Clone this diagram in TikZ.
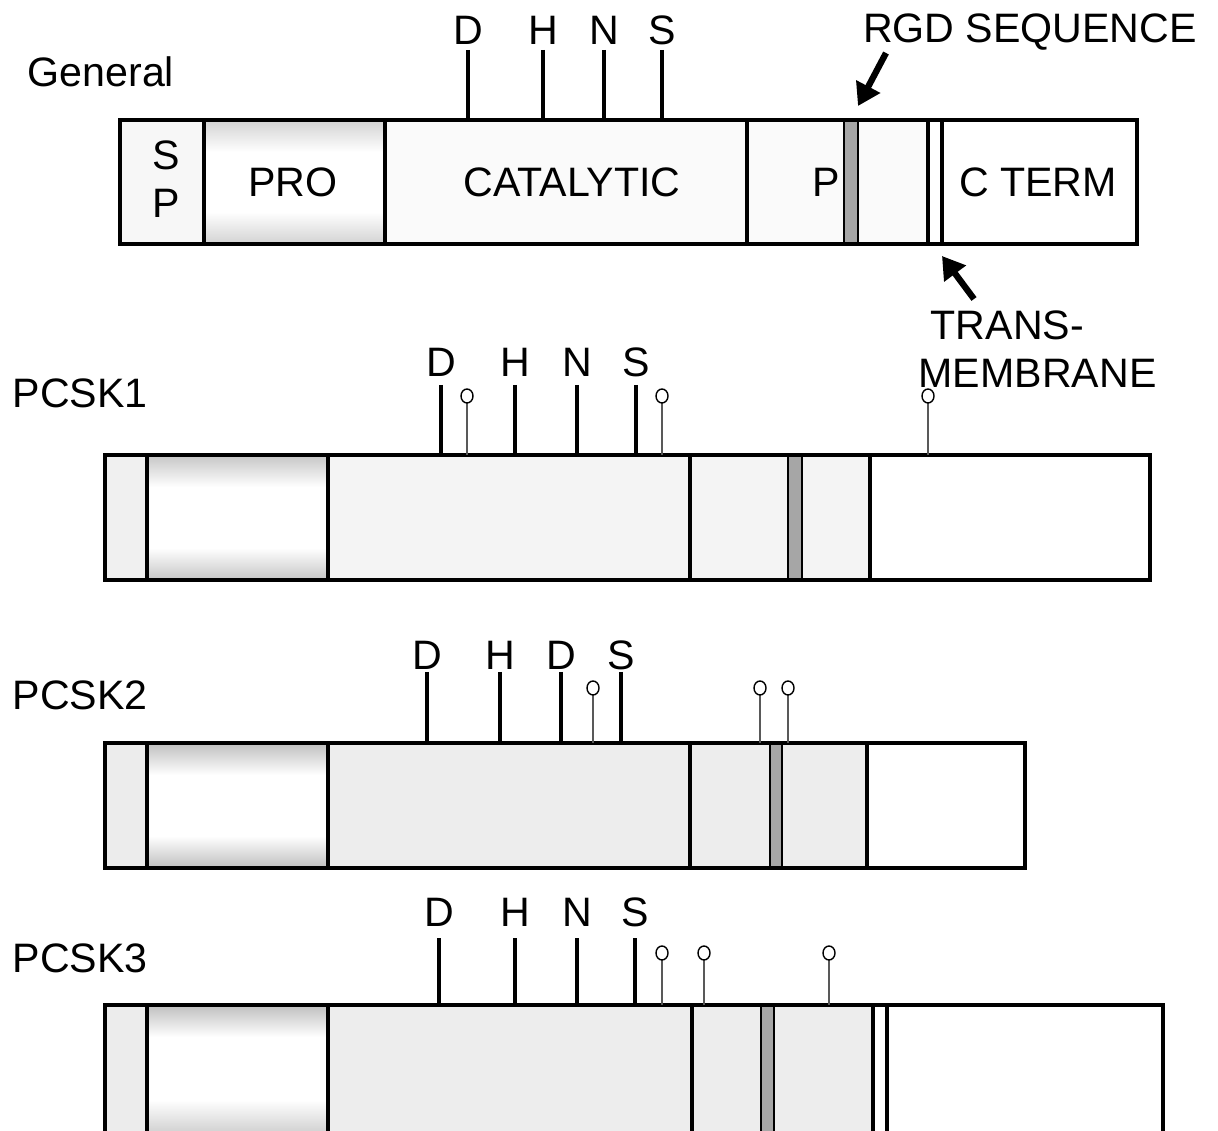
\documentclass[tikz,border=0pt]{standalone}
\usepackage{fontspec}
\setmainfont{Liberation Sans}
\usetikzlibrary{arrows.meta,positioning}

\tikzset{
  lbl/.style={font=\fontsize{11.7}{14}\selectfont,inner sep=0pt},
  bar/.style={line width=0.9pt},
  site/.style={line width=1.4pt},
  glyco/.style={gray!70!black,line width=0.4pt},
  sugar/.style={draw=black,fill=white,line width=0.4pt},
  rgdband/.style={draw,line width=0.6pt,fill=gray!70},
  pointer/.style={line width=1.8pt,-{Triangle[length=0.22cm,width=0.26cm]}}
}

\begin{document}
\begin{tikzpicture}[x=0.01cm,y=-0.01cm]
  \useasboundingbox (0,0) rectangle (1218,1131);
  \clip (0,0) rectangle (1218,1131);

  % general domain layout
  \node[lbl,anchor=west] (general) at (27,72) {General};
  \begin{scope}
    \fill[gray!6] (120,120) rectangle (204,244);
    \shade[top color=gray!35,bottom color=white] (204,120) rectangle (385,152);
    \shade[top color=white,bottom color=gray!35] (204,212) rectangle (385,244);
    \fill[gray!4] (385,120) rectangle (928,244);
    \filldraw[rgdband] (844,120) rectangle (858,244);
    \draw[bar] (120,120) rectangle (1137,244);
    \foreach \x in {204,385,747,928,942}
      \draw[bar] (\x,120) -- (\x,244);

    \node[lbl] (sp1) at (166,155) {S};
    \node[lbl] (sp2) at (166,203) {P};
    \node[lbl] (pro) at (293,182) {PRO};
    \node[lbl] (cat) at (572,182) {CATALYTIC};
    \node[lbl] (pdom) at (826,182) {P};
    \node[lbl] (cterm) at (1038,182) {C TERM};

    \foreach \x/\t [count=\i] in {468/D,543/H,604/N,662/S} {
      \draw[site] (\x,50) -- (\x,120);
      \node[lbl] (g\i) at (\x,30) {\t};
    }
  \end{scope}

  \node[lbl] (rgd) at (1030,32) {RGD SEQUENCE};
  \coordinate (rgdtail) at (886,53);
  \coordinate (rgdtip) at (858,106);
  \draw[pointer] (rgdtail) -- (rgdtip);

  \node[lbl,anchor=west] (trans) at (930,325) {TRANS-};
  \node[lbl,anchor=west] (membrane) at (918,373) {MEMBRANE};
  \coordinate (tmtail) at (974,299);
  \coordinate (tmtip) at (942,256);
  \draw[pointer] (tmtail) -- (tmtip);

  % PCSK1
  \node[lbl,anchor=west] (pcsk1) at (12,393) {PCSK1};
  \begin{scope}
    \fill[gray!12] (105,455) rectangle (147,580);
    \shade[top color=gray!45,bottom color=white] (147,455) rectangle (328,487);
    \shade[top color=white,bottom color=gray!45] (147,548) rectangle (328,580);
    \fill[gray!9] (328,455) rectangle (870,580);
    \filldraw[rgdband] (788,455) rectangle (802,580);
    \draw[bar] (105,455) rectangle (1150,580);
    \foreach \x in {147,328,690,870}
      \draw[bar] (\x,455) -- (\x,580);

    \foreach \x/\t [count=\i] in {441/D,515/H,577/N,636/S} {
      \draw[site] (\x,385) -- (\x,455);
      \node[lbl] (a\i) at (\x,362) {\t};
    }
    \foreach \x in {467,662,928} {
      \draw[glyco] (\x,402) -- (\x,455);
      \draw[sugar] (\x,396) ellipse (6 and 7);
    }
  \end{scope}

  % PCSK2
  \node[lbl,anchor=west] (pcsk2) at (12,695) {PCSK2};
  \begin{scope}
    \fill[gray!15] (105,743) rectangle (147,868);
    \shade[top color=gray!50,bottom color=white] (147,743) rectangle (328,775);
    \shade[top color=white,bottom color=gray!50] (147,836) rectangle (328,868);
    \fill[gray!14] (328,743) rectangle (867,868);
    \filldraw[rgdband] (770,743) rectangle (782,868);
    \draw[bar] (105,743) rectangle (1025,868);
    \foreach \x in {147,328,690,867}
      \draw[bar] (\x,743) -- (\x,868);

    \foreach \x/\t [count=\i] in {427/D,500/H,561/D,621/S} {
      \draw[site] (\x,672) -- (\x,743);
      \node[lbl] (b\i) at (\x,655) {\t};
    }
    \foreach \x in {593,760,788} {
      \draw[glyco] (\x,695) -- (\x,743);
      \draw[sugar] (\x,688) ellipse (6 and 7);
    }
  \end{scope}

  % PCSK3
  \node[lbl,anchor=west] (pcsk3) at (12,958) {PCSK3};
  \begin{scope}
    \fill[gray!15] (105,1005) rectangle (147,1145);
    \shade[top color=gray!50,bottom color=white] (147,1005) rectangle (328,1037);
    \shade[top color=white,bottom color=gray!50] (147,1100) rectangle (328,1145);
    \fill[gray!14] (328,1005) rectangle (873,1145);
    \filldraw[rgdband] (761,1005) rectangle (774,1145);
    \draw[bar] (105,1005) rectangle (1163,1145);
    \foreach \x in {147,328,692,873,887}
      \draw[bar] (\x,1005) -- (\x,1145);

    \foreach \x/\t [count=\i] in {439/D,515/H,577/N,635/S} {
      \draw[site] (\x,938) -- (\x,1005);
      \node[lbl] (c\i) at (\x,912) {\t};
    }
    \foreach \x in {662,704,829} {
      \draw[glyco] (\x,960) -- (\x,1005);
      \draw[sugar] (\x,953) ellipse (6 and 7);
    }
  \end{scope}

\end{tikzpicture}
\end{document}
